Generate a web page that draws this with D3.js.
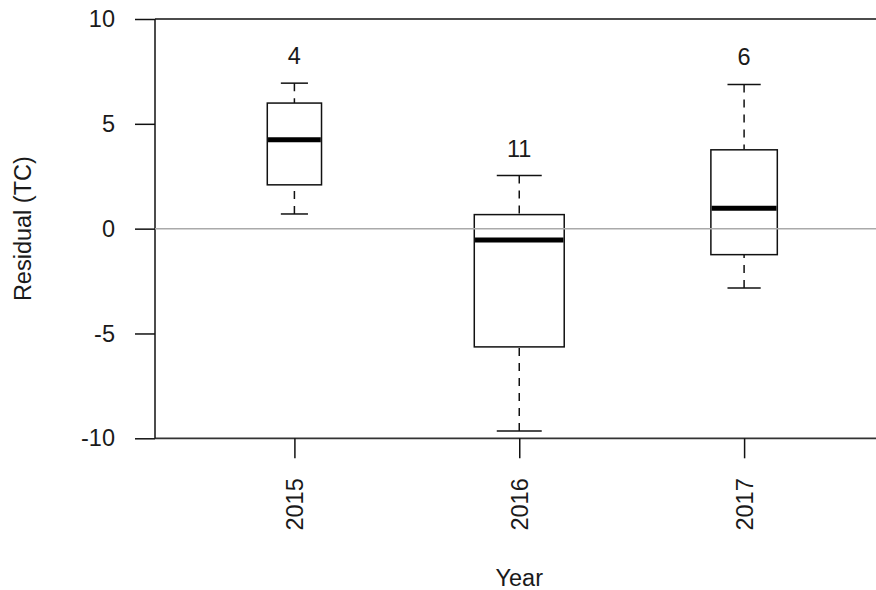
<!DOCTYPE html>
<html>
<head>
<meta charset="utf-8">
<script src="https://cdn.jsdelivr.net/npm/d3@7"></script>
<style>
  html, body { margin: 0; padding: 0; background: #fff; }
  svg { display: block; }
  text { font-family: "Liberation Sans", Arial, Helvetica, sans-serif; fill: #1a1a1a; }
</style>
</head>
<body>
<svg id="chart" width="876" height="590"></svg>
<script>
// Residuals (TC) by year: five-number summaries per year
const years      = ["2015", "2016", "2017"];
const counts     = [4, 11, 6];
const whiskerLow = [0.70, -9.65, -2.83];
const q1         = [2.09, -5.64, -1.24];
const medians    = [4.24, -0.54, 0.97];
const q3         = [5.99, 0.67, 3.76];
const whiskerHigh= [6.94, 2.53, 6.88];
const yTicks     = [-10, -5, 0, 5, 10];

const svg = d3.select("#chart");
const plot = { left: 155, right: 883.5, top: 19, bottom: 438.3 };

const x = d3.scalePoint().domain(years).range([plot.left, plot.right]).padding(0.62);
const y = d3.scaleLinear().domain([-10, 10]).range([plot.bottom, plot.top]);

const fontSize = 23.5;
const maxN = d3.max(counts);
const boxWidth = n => x.step() * 0.4 * Math.sqrt(n / maxN);

const rows = years.map((yr, i) => ({
  year: yr, n: counts[i], lo: whiskerLow[i], q1: q1[i], med: medians[i], q3: q3[i], hi: whiskerHigh[i]
}));

// frame lines at top and bottom of the plotting region
svg.append("line")
  .attr("x1", plot.left).attr("x2", 876)
  .attr("y1", plot.top).attr("y2", plot.top)
  .attr("stroke", "#111").attr("stroke-width", 1.5);
svg.append("line")
  .attr("x1", plot.left).attr("x2", 876)
  .attr("y1", plot.bottom).attr("y2", plot.bottom)
  .attr("stroke", "#333").attr("stroke-width", 1.8);

// y axis (plain hyphen for negatives)
const yAxis = d3.axisLeft(y).tickValues(yTicks).tickSize(20).tickPadding(20).tickFormat(d => String(d));
const gy = svg.append("g").attr("transform", `translate(${plot.left},0)`).call(yAxis);
gy.select(".domain").attr("stroke", "#111").attr("stroke-width", 1.5).attr("d", `M0,${plot.top}V${plot.bottom}`);
gy.selectAll(".tick line").attr("stroke", "#111").attr("stroke-width", 1.5);
gy.selectAll(".tick text").attr("font-size", fontSize).attr("fill", "#1a1a1a")
  .style("font-family", "'Liberation Sans', Arial, sans-serif");

// x axis with rotated year labels
const xAxis = d3.axisBottom(x).tickSize(20).tickPadding(0);
const gx = svg.append("g").attr("transform", `translate(0,${plot.bottom})`).call(xAxis);
gx.select(".domain").remove();
gx.selectAll(".tick line").attr("stroke", "#111").attr("stroke-width", 1.5);
gx.selectAll(".tick text")
  .attr("font-size", fontSize).attr("fill", "#1a1a1a")
  .style("font-family", "'Liberation Sans', Arial, sans-serif")
  .attr("transform", "rotate(-90)")
  .attr("x", -40).attr("y", 0).attr("dy", "0.35em")
  .attr("text-anchor", "end");

// boxes
const g = svg.append("g");
const box = g.selectAll("g.box").data(rows).join("g").attr("class", "box");

// dashed whiskers, drawn from the whisker end toward the box
box.append("line")
  .attr("x1", d => x(d.year)).attr("x2", d => x(d.year))
  .attr("y1", d => y(d.hi)).attr("y2", d => y(d.q3))
  .attr("stroke", "#111").attr("stroke-width", 1.5).attr("stroke-dasharray", "8,7");
box.append("line")
  .attr("x1", d => x(d.year)).attr("x2", d => x(d.year))
  .attr("y1", d => y(d.lo)).attr("y2", d => y(d.q1))
  .attr("stroke", "#111").attr("stroke-width", 1.5).attr("stroke-dasharray", "8,7");

// staples at half box width
["hi", "lo"].forEach(k => {
  box.append("line")
    .attr("x1", d => x(d.year) - boxWidth(d.n) / 4).attr("x2", d => x(d.year) + boxWidth(d.n) / 4)
    .attr("y1", d => y(d[k])).attr("y2", d => y(d[k]))
    .attr("stroke", "#111").attr("stroke-width", 1.5);
});

box.append("rect")
  .attr("x", d => x(d.year) - boxWidth(d.n) / 2)
  .attr("width", d => boxWidth(d.n))
  .attr("y", d => y(d.q3))
  .attr("height", d => y(d.q1) - y(d.q3))
  .attr("fill", "#fff").attr("stroke", "#111").attr("stroke-width", 1.5);

// reference line at zero
svg.append("line")
  .attr("x1", plot.left).attr("x2", 876)
  .attr("y1", y(0)).attr("y2", y(0))
  .attr("stroke", "#aaaaaa").attr("stroke-width", 1.5);

// medians
box.append("line")
  .attr("x1", d => x(d.year) - boxWidth(d.n) / 2 + 0.75).attr("x2", d => x(d.year) + boxWidth(d.n) / 2 - 0.75)
  .attr("y1", d => y(d.med)).attr("y2", d => y(d.med))
  .attr("stroke", "#000").attr("stroke-width", 5);
box.raise();

// sample sizes above each box
svg.selectAll("text.count").data(rows).join("text")
  .attr("class", "count")
  .attr("x", d => x(d.year))
  .attr("y", d => y(d.hi + 1.3))
  .attr("dy", "0.35em")
  .attr("text-anchor", "middle")
  .attr("font-size", fontSize)
  .text(d => d.n);

// axis titles
svg.append("text")
  .attr("x", (plot.left + plot.right) / 2).attr("y", 586)
  .attr("text-anchor", "middle").attr("font-size", fontSize)
  .text("Year");
svg.append("text")
  .attr("transform", `translate(31,${(plot.top + plot.bottom) / 2}) rotate(-90)`)
  .attr("text-anchor", "middle").attr("font-size", fontSize)
  .text("Residual (TC)");
</script>
</body>
</html>
